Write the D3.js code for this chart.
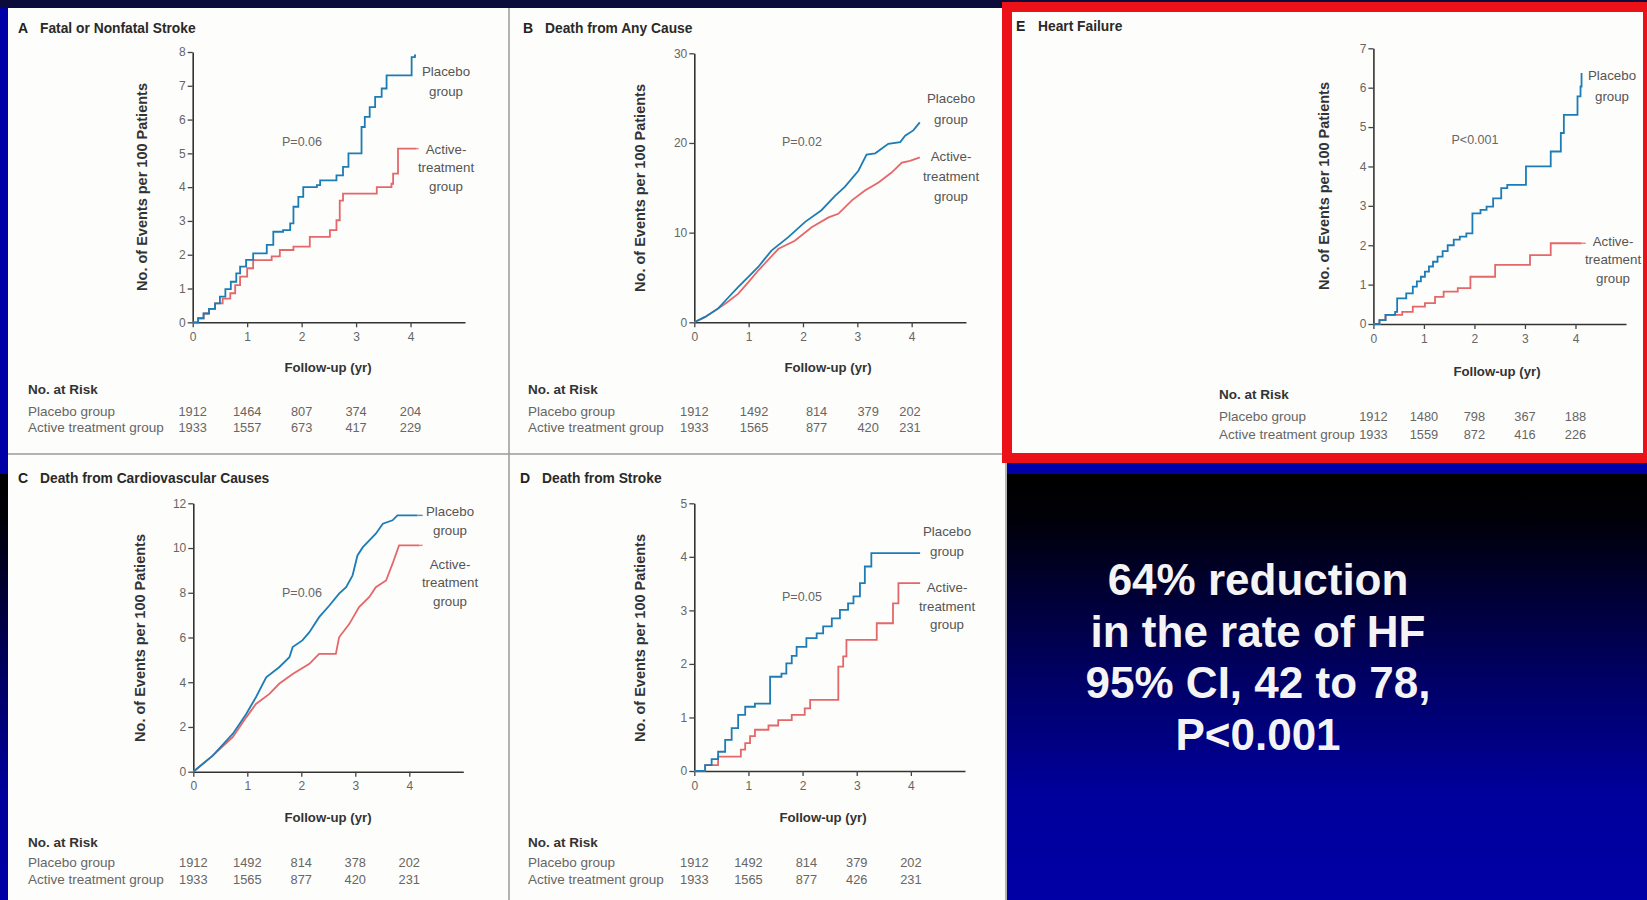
<!DOCTYPE html>
<html><head><meta charset="utf-8">
<script src="https://cdn.jsdelivr.net/npm/d3@7"></script>
<style>body{margin:0;background:#0000a8;} svg{display:block}</style>
</head><body><svg id="c" width="1647" height="900"></svg>
<script>
// ---------- DATA ----------
const panelLetters = ['A', 'B', 'C', 'D', 'E'];
const panelTitles = ['Fatal or Nonfatal Stroke', 'Death from Any Cause', 'Death from Cardiovascular Causes', 'Death from Stroke', 'Heart Failure'];
const pValues = ['P=0.06', 'P=0.02', 'P=0.06', 'P=0.05', 'P<0.001'];
const xTicks = [0, 1, 2, 3, 4];
const yTicksA = [0, 1, 2, 3, 4, 5, 6, 7, 8];
const yTicksB = [0, 10, 20, 30];
const yTicksC = [0, 2, 4, 6, 8, 10, 12];
const yTicksD = [0, 1, 2, 3, 4, 5];
const yTicksE = [0, 1, 2, 3, 4, 5, 6, 7];
const yAxisLabel = 'No. of Events per 100 Patients';
const xAxisLabel = 'Follow-up (yr)';
const riskHeader = 'No. at Risk';
const groupNames = ['Placebo group', 'Active treatment group'];
const placeboLabel = ['Placebo', 'group'];
const activeLabel = ['Active-', 'treatment', 'group'];

// Kaplan-Meier style cumulative events [year, events per 100 patients]
const aPlacebo = [[0,0],[0.1,0.12],[0.2,0.26],[0.3,0.4],[0.41,0.56],[0.5,0.76],[0.6,0.98],[0.7,1.2],[0.8,1.45],[0.87,1.65],[0.98,1.85],[1.11,2.04],[1.36,2.29],[1.48,2.68],[1.66,2.73],[1.79,2.93],[1.85,3.42],[1.94,3.71],[2.03,4.0],[2.28,4.06],[2.34,4.2],[2.64,4.35],[2.76,4.6],[2.86,5.0],[3.1,5.78],[3.16,6.08],[3.25,6.37],[3.35,6.67],[3.47,6.92],[3.56,7.31],[4.02,7.85],[4.08,7.9],[4.1,7.9]];
const aActive = [[0,0],[0.1,0.12],[0.2,0.26],[0.3,0.4],[0.41,0.56],[0.55,0.7],[0.69,0.86],[0.78,1.1],[0.87,1.35],[1.0,1.6],[1.11,1.84],[1.45,1.95],[1.6,2.14],[1.85,2.24],[2.15,2.53],[2.52,2.73],[2.64,3.02],[2.7,3.6],[2.76,3.81],[3.38,4.0],[3.65,4.1],[3.68,4.4],[3.77,5.14],[4.11,5.14]];
const bPlacebo = [[0,0],[0.2,0.6],[0.44,1.55],[0.6,2.6],[0.81,3.96],[1.0,5.1],[1.18,6.2],[1.42,8.0],[1.73,9.5],[2.04,11.2],[2.34,12.5],[2.59,14.1],[2.77,15.1],[3.02,16.9],[3.17,18.7],[3.33,18.85],[3.57,19.9],[3.79,20.1],[3.88,20.8],[4.03,21.4],[4.15,22.3]];
const bActive = [[0,0],[0.2,0.6],[0.44,1.55],[0.6,2.2],[0.81,3.2],[1.0,4.5],[1.18,5.8],[1.55,8.2],[1.85,9.1],[2.16,10.6],[2.47,11.7],[2.65,12.1],[2.9,13.6],[3.14,14.7],[3.39,15.6],[3.63,16.7],[3.82,17.8],[3.97,18.0],[4.15,18.4]];
const cPlacebo = [[0,0],[0.36,0.72],[0.73,1.69],[0.98,2.58],[1.16,3.33],[1.35,4.22],[1.59,4.67],[1.78,5.12],[1.84,5.57],[2.02,5.87],[2.15,6.24],[2.33,6.91],[2.52,7.43],[2.7,7.96],[2.83,8.25],[2.95,8.78],[3.04,9.67],[3.14,10.04],[3.26,10.34],[3.38,10.64],[3.51,11.09],[3.69,11.24],[3.78,11.46],[4.15,11.46]];
const cActive = [[0,0],[0.36,0.72],[0.73,1.54],[0.98,2.43],[1.16,3.03],[1.41,3.48],[1.59,3.93],[1.84,4.37],[2.15,4.82],[2.33,5.27],[2.64,5.27],[2.7,6.01],[2.89,6.61],[3.07,7.36],[3.26,7.81],[3.38,8.25],[3.57,8.55],[3.69,9.3],[3.81,10.12],[4.19,10.12]];
const dPlacebo = [[0,0],[0.2,0.11],[0.32,0.22],[0.44,0.36],[0.57,0.58],[0.69,0.8],[0.81,1.05],[0.94,1.2],[1.12,1.26],[1.4,1.76],[1.61,1.82],[1.7,2.01],[1.8,2.15],[1.89,2.32],[2.07,2.48],[2.26,2.57],[2.38,2.7],[2.54,2.85],[2.69,3.01],[2.84,3.13],[2.94,3.26],[3.06,3.51],[3.15,3.82],[3.27,4.07],[4.17,4.07]];
const dActive = [[0,0],[0.2,0.11],[0.44,0.27],[0.78,0.27],[0.86,0.4],[0.94,0.52],[1.03,0.65],[1.12,0.77],[1.37,0.85],[1.55,0.95],[1.8,1.05],[2.04,1.17],[2.14,1.33],[2.66,1.95],[2.75,2.14],[2.81,2.45],[3.37,2.76],[3.67,3.13],[3.77,3.51],[4.17,3.51]];
const ePlacebo = [[0,0],[0.12,0.1],[0.24,0.23],[0.43,0.31],[0.47,0.65],[0.65,0.78],[0.78,0.95],[0.86,1.08],[0.94,1.2],[1.02,1.33],[1.1,1.46],[1.18,1.58],[1.27,1.71],[1.37,1.85],[1.47,2.0],[1.59,2.14],[1.71,2.22],[1.84,2.3],[1.96,2.81],[2.12,2.9],[2.24,2.98],[2.37,3.19],[2.53,3.45],[2.65,3.53],[3.02,4.0],[3.51,4.38],[3.71,4.85],[3.77,5.31],[4.04,5.78],[4.1,6.03],[4.12,6.37]];
const eActive = [[0,0],[0.12,0.1],[0.24,0.23],[0.57,0.31],[0.78,0.44],[1.02,0.53],[1.22,0.69],[1.39,0.82],[1.67,0.91],[1.92,1.2],[2.41,1.5],[3.1,1.75],[3.51,2.05],[4.12,2.05]];

// Numbers at risk
const riskPlaceboA = ['1912', '1464', '807', '374', '204'];
const riskActiveA = ['1933', '1557', '673', '417', '229'];
const riskPlaceboB = ['1912', '1492', '814', '379', '202'];
const riskActiveB = ['1933', '1565', '877', '420', '231'];
const riskPlaceboC = ['1912', '1492', '814', '378', '202'];
const riskActiveC = ['1933', '1565', '877', '420', '231'];
const riskPlaceboD = ['1912', '1492', '814', '379', '202'];
const riskActiveD = ['1933', '1565', '877', '426', '231'];
const riskPlaceboE = ['1912', '1480', '798', '367', '188'];
const riskActiveE = ['1933', '1559', '872', '416', '226'];
const riskYearsA = [0, 1, 2, 3, 4];
const riskYearsB = [0, 1.1, 2.25, 3.2, 3.97];
const riskYearsC = [0, 1, 2, 3, 4];
const riskYearsD = [0, 1, 2.07, 3, 4];
const riskYearsE = [0, 1, 2, 3, 4];

const summaryLines = ['64% reduction', 'in the rate of HF', '95% CI, 42 to 78,', 'P<0.001'];

// ---------- LAYOUT / STYLE ----------
const FONT = '"Liberation Sans", Arial, sans-serif';
const COL_PLACEBO = '#1c7cb6';
const COL_ACTIVE = '#e4676a';

const svg = d3.select('#c');
const defs = svg.append('defs');
const grad = defs.append('linearGradient').attr('id', 'bg2').attr('x1', 0).attr('x2', 0).attr('y1', 0).attr('y2', 1);
[[0, '#000000'], [0.1, '#000008'], [0.45, '#00005e'], [0.75, '#00009c'], [1, '#0000a6']].forEach(s =>
  grad.append('stop').attr('offset', s[0]).attr('stop-color', s[1]));

svg.append('rect').attr('width', 1647).attr('height', 900).attr('fill', '#0000a8');
svg.append('rect').attr('x', 0).attr('y', 474).attr('width', 1647).attr('height', 426).attr('fill', 'url(#bg2)');
svg.append('rect').attr('x', 0).attr('y', 0).attr('width', 1647).attr('height', 8).attr('fill', '#0c0c3a');
// white figure panels A-D
svg.append('rect').attr('x', 8).attr('y', 8).attr('width', 999).attr('height', 892).attr('fill', '#fdfdfb');
svg.append('line').attr('x1', 509).attr('x2', 509).attr('y1', 8).attr('y2', 900).attr('stroke', '#9a9a9a').attr('stroke-width', 1.5);
svg.append('line').attr('x1', 8).attr('x2', 1007).attr('y1', 454).attr('y2', 454).attr('stroke', '#9a9a9a').attr('stroke-width', 1.5);
svg.append('line').attr('x1', 1006).attr('x2', 1006).attr('y1', 454).attr('y2', 900).attr('stroke', '#9a9a9a').attr('stroke-width', 1.5);
// red framed panel E
svg.append('rect').attr('x', 1007).attr('y', 7).attr('width', 641).attr('height', 451)
  .attr('fill', '#fdfdfb').attr('stroke', '#ec1018').attr('stroke-width', 10);

const layouts = [
  { id: 'A', x0: 192.7, x5: 465, y0: 322.3, yTop: 52, yMax: 8, yTicks: yTicksA, step: true,
    letter: [18, 33], ylab: [142, 187], flab: [328, 372], p: [302, 146],
    riskX: 28, riskY: [394, 416, 432], plLab: [446, [76, 96]], acLab: [446, [154, 172, 191]],
    placebo: aPlacebo, active: aActive, rp: riskPlaceboA, ra: riskActiveA, ry: riskYearsA, leadP: false, leadA: true },
  { id: 'B', x0: 694.3, x5: 966, y0: 322.3, yTop: 53.3, yMax: 30, yTicks: yTicksB, step: false,
    letter: [523, 33], ylab: [640, 188], flab: [828, 372], p: [802, 146],
    riskX: 528, riskY: [394, 416, 432], plLab: [951, [103, 124]], acLab: [951, [161, 181, 201]],
    placebo: bPlacebo, active: bActive, rp: riskPlaceboB, ra: riskActiveB, ry: riskYearsB, leadP: false, leadA: false },
  { id: 'C', x0: 193.3, x5: 463.3, y0: 771.7, yTop: 503.3, yMax: 12, yTicks: yTicksC, step: false,
    letter: [18, 483], ylab: [140, 638], flab: [328, 822], p: [302, 597],
    riskX: 28, riskY: [847, 867, 884], plLab: [450, [516, 535]], acLab: [450, [569, 587, 606]],
    placebo: cPlacebo, active: cActive, rp: riskPlaceboC, ra: riskActiveC, ry: riskYearsC, leadP: true, leadA: true },
  { id: 'D', x0: 694.3, x5: 965, y0: 771, yTop: 503.3, yMax: 5, yTicks: yTicksD, step: true,
    letter: [520, 483], ylab: [640, 638], flab: [823, 822], p: [802, 601],
    riskX: 528, riskY: [847, 867, 884], plLab: [947, [536, 556]], acLab: [947, [592, 611, 629]],
    placebo: dPlacebo, active: dActive, rp: riskPlaceboD, ra: riskActiveD, ry: riskYearsD, leadP: true, leadA: true },
  { id: 'E', x0: 1373.4, x5: 1626, y0: 324, yTop: 48.3, yMax: 7, yTicks: yTicksE, step: true,
    letter: [1016, 31], ylab: [1324, 186], flab: [1497, 376], p: [1475, 144],
    riskX: 1219, riskY: [399, 421, 439], plLab: [1612, [80, 101]], acLab: [1613, [246, 264, 283]],
    placebo: ePlacebo, active: eActive, rp: riskPlaceboE, ra: riskActiveE, ry: riskYearsE, leadP: false, leadA: true }
];

function drawPanel(cfg, i) {
  const x = d3.scaleLinear().domain([0, 5]).range([cfg.x0, cfg.x5]);
  const y = d3.scaleLinear().domain([0, cfg.yMax]).range([cfg.y0, cfg.yTop]);
  const g = svg.append('g').attr('font-family', FONT);

  // title
  g.append('text').attr('x', cfg.letter[0]).attr('y', cfg.letter[1]).attr('font-size', 14).attr('font-weight', 'bold')
    .attr('fill', '#222').text(panelLetters[i]);
  g.append('text').attr('x', cfg.letter[0] + 22).attr('y', cfg.letter[1]).attr('font-size', 13.8).attr('font-weight', 'bold')
    .attr('fill', '#2a2a2a').text(panelTitles[i]);

  // axes
  const fmt = d3.format('d');
  const ya = g.append('g').attr('transform', `translate(${cfg.x0},0)`)
    .call(d3.axisLeft(y).tickValues(cfg.yTicks).tickFormat(fmt).tickSize(5).tickSizeOuter(0).tickPadding(2));
  const xa = g.append('g').attr('transform', `translate(0,${cfg.y0})`)
    .call(d3.axisBottom(x).tickValues(xTicks).tickFormat(fmt).tickSize(5).tickSizeOuter(0).tickPadding(5));
  [ya, xa].forEach(a => {
    a.select('.domain').attr('stroke', '#333').attr('stroke-width', 1.6);
    a.selectAll('.tick line').attr('stroke', '#444').attr('stroke-width', 1.3);
    a.selectAll('.tick text').attr('fill', '#666').attr('font-size', 12).attr('font-family', FONT);
  });

  // axis labels
  g.append('text').attr('transform', `translate(${cfg.ylab[0]},${cfg.ylab[1]}) rotate(-90)`)
    .attr('text-anchor', 'middle').attr('dominant-baseline', 'central').attr('font-size', 14.5).attr('font-weight', 'bold')
    .attr('fill', '#333').text(yAxisLabel);
  g.append('text').attr('x', cfg.flab[0]).attr('y', cfg.flab[1]).attr('text-anchor', 'middle')
    .attr('font-size', 13.2).attr('font-weight', 'bold').attr('fill', '#333').text(xAxisLabel);

  // p value
  g.append('text').attr('x', cfg.p[0]).attr('y', cfg.p[1]).attr('text-anchor', 'middle')
    .attr('font-size', 12.5).attr('fill', '#666').text(pValues[i]);

  // curves
  const line = d3.line().x(d => x(d[0])).y(d => y(d[1])).curve(cfg.step ? d3.curveStepAfter : d3.curveLinear);
  [[cfg.active, COL_ACTIVE], [cfg.placebo, COL_PLACEBO]].forEach(([data, col]) => {
    g.append('path').datum(data).attr('d', line).attr('fill', 'none').attr('stroke', col)
      .attr('stroke-width', 1.8).attr('stroke-linejoin', 'miter');
  });

  // curve labels
  const lab = (pos, lines) => {
    lines.forEach((t, k) => g.append('text').attr('x', pos[0]).attr('y', pos[1][k]).attr('text-anchor', 'middle')
      .attr('font-size', 13.3).attr('fill', '#555').text(t));
  };
  lab(cfg.plLab, placeboLabel);
  lab(cfg.acLab, activeLabel);

  // leader lines from curve ends to labels
  const leader = (data, col, pos, txt) => {
    const last = data[data.length - 1];
    const w = txt.length * 13.3 * 0.5;
    g.append('line').attr('x1', x(last[0])).attr('x2', pos[0] - w / 2 - 4)
      .attr('y1', y(last[1])).attr('y2', y(last[1])).attr('stroke', col).attr('stroke-width', 1.4).attr('opacity', 0.8);
  };
  if (cfg.leadP) leader(cfg.placebo, COL_PLACEBO, cfg.plLab, placeboLabel[0]);
  if (cfg.leadA) leader(cfg.active, COL_ACTIVE, cfg.acLab, activeLabel[0]);

  // numbers at risk
  g.append('text').attr('x', cfg.riskX).attr('y', cfg.riskY[0]).attr('font-size', 13.5).attr('font-weight', 'bold')
    .attr('fill', '#333').text(riskHeader);
  groupNames.forEach((nm, k) => g.append('text').attr('x', cfg.riskX).attr('y', cfg.riskY[k + 1])
    .attr('font-size', 13.5).attr('fill', '#666').text(nm));
  [cfg.rp, cfg.ra].forEach((row, k) => {
    g.selectAll(null).data(row).enter().append('text')
      .attr('x', (d, j) => x(cfg.ry[j])).attr('y', cfg.riskY[k + 1]).attr('text-anchor', 'middle')
      .attr('font-size', 12.8).attr('fill', '#666').text(d => d);
  });
}
layouts.forEach(drawPanel);

// summary text
svg.append('g').selectAll('text').data(summaryLines).enter().append('text')
  .attr('x', 1258).attr('y', (d, i) => 595 + i * 51.5).attr('text-anchor', 'middle')
  .attr('font-family', FONT).attr('font-weight', 'bold').attr('font-size', 44).attr('fill', '#f4f4f4')
  .text(d => d);
</script></body></html>
